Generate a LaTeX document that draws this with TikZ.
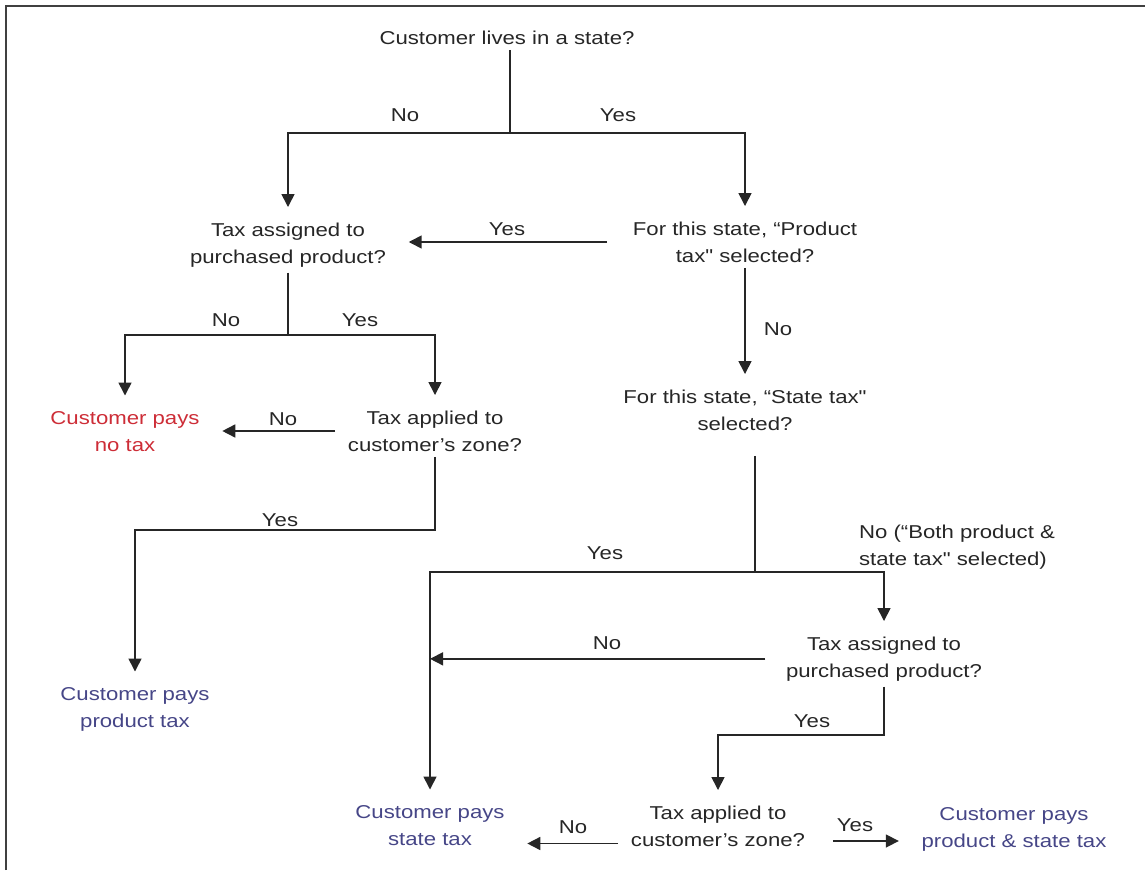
\documentclass[tikz,border=0pt]{standalone}
\usepackage{fontspec}
\newfontfamily\flowfont{Liberation Sans}[FakeStretch=1.19]
\usetikzlibrary{arrows.meta}
\definecolor{nopay}{RGB}{205,45,55}
\definecolor{paytax}{RGB}{70,70,135}
\begin{document}
\begin{tikzpicture}[x=0.02cm,y=-0.02cm,>={Triangle[length=0.26cm,width=0.26cm]},line width=0.9pt,color=black!85,
	txt/.style={anchor=base,align=center,inner xsep=0.24cm,inner ysep=0.1cm,font=\flowfont\fontsize{10.6pt}{15.2pt}\selectfont},
	lbl/.style={anchor=base,inner sep=0pt,font=\flowfont\fontsize{10.6pt}{15.2pt}\selectfont},
	arr/.style={->,shorten >=0.2cm}]
		\useasboundingbox (0,0) rectangle (1145,870);
		\draw[line width=1.2pt,black!75] (6,870) -- (6,6) -- (1145,6);
		\node[txt] (top) at (507,44) {Customer lives in a state?};
		\node[txt] (q1) at (288,263) {Tax assigned to\\purchased product?};
		\node[txt] (q2) at (745,262) {For this state, “Product\\tax" selected?};
		\node[txt] (q3) at (435,451) {Tax applied to\\customer’s zone?};
		\node[txt] (q4) at (745,430) {For this state, “State tax"\\selected?};
		\node[txt] (q5) at (884,677) {Tax assigned to\\purchased product?};
		\node[txt] (q6) at (718,846) {Tax applied to\\customer’s zone?};
		\node[txt,nopay] (e1) at (125,451) {Customer pays\\no tax};
		\node[txt,paytax] (e2) at (135,727) {Customer pays\\product tax};
		\node[txt,paytax] (e3) at (430,845) {Customer pays\\state tax};
		\node[txt,paytax] (e4) at (1014,847) {Customer pays\\product \& state tax};
		\node[lbl] (n1) at (405,121) {No};
		\node[lbl] (y1) at (618,121) {Yes};
		\node[lbl] (y2) at (507,235) {Yes};
		\node[lbl] (n3) at (226,326) {No};
		\node[lbl] (y3) at (360,326) {Yes};
		\node[lbl] (n4) at (283,425) {No};
		\node[lbl] (n5) at (778,335) {No};
		\node[lbl] (y6) at (280,526) {Yes};
		\node[lbl] (y7) at (605,559) {Yes};
		\node[txt,align=left] (n7) at (957,565) {No (“Both product \&\\state tax" selected)};
		\node[lbl] (n8) at (607,649) {No};
		\node[lbl] (y9) at (812,727) {Yes};
		\node[lbl] (n10) at (573,833) {No};
		\node[lbl] (y10) at (855,831) {Yes};
		\coordinate (j1) at (510,133);
		\coordinate (j2) at (288,335);
		\coordinate (j3) at (135,530);
		\coordinate (j4) at (755,572);
		\coordinate (j5) at (718,735);
		\draw (j1 |- top.south) -- (j1);
		\draw[arr] (j1) -| (q1);
		\draw[arr] (j1) -| (q2);
		\draw[arr,shorten <=0.26cm] (q2.west) -- (q2.west -| q1.east);
		\draw (q1) -- (j2);
		\draw[arr] (j2) -| (e1);
		\draw[arr] (j2) -| (q3);
		\draw[arr] (q3.west) -- (q3.west -| e1.east);
		\draw[arr] (q2) -- (q4);
		\draw[arr] (q3) |- (j3) -- (e2);
		\draw[shorten <=0.4cm] (j4 |- q4.south) -- (j4);
		\draw[arr] (j4) -| (q5);
		\draw[arr] (j4) -| (e3);
		\draw[arr,shorten >=0pt,shorten <=0.16cm] (q5.west) -- (q5.west -| e3.north);
		\draw[arr] (q5) |- (j5) -- (q6);
		\draw[arr] ([yshift=-0.35cm]q6.west) -- ([yshift=-0.35cm]q6.west -| e3.east);
		\draw[arr,shorten <=0.3cm] ([yshift=-0.3cm]q6.east) -- ([yshift=-0.3cm]q6.east -| e4.west);
\end{tikzpicture}
\end{document}
